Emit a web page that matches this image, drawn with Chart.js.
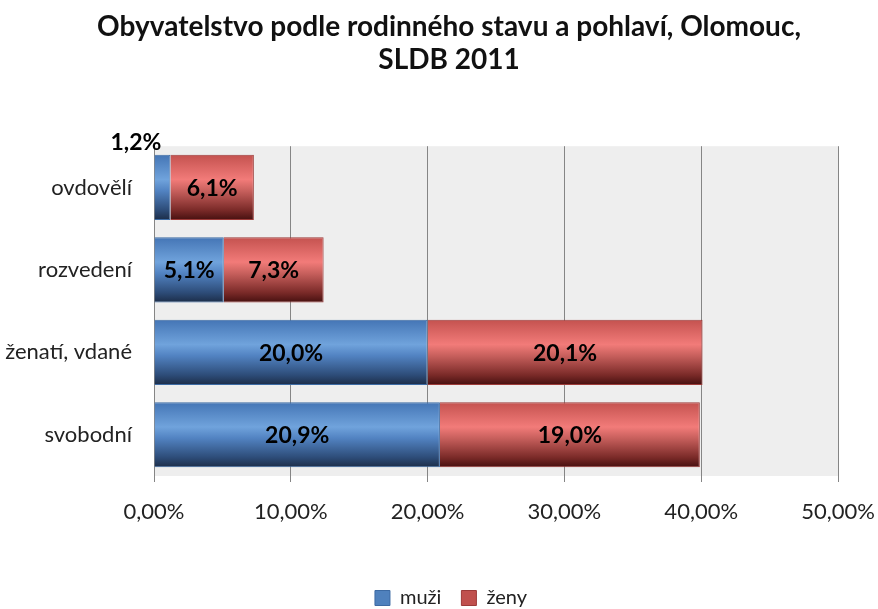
<!DOCTYPE html>
<html>
<head>
<meta charset="utf-8">
<script src="https://cdn.jsdelivr.net/npm/chart.js@4/dist/chart.umd.min.js"></script>
<style>
html,body{margin:0;padding:0;background:#fff;}
#wrap{width:878px;height:609px;position:relative;}
</style>
</head>
<body>
<div id="wrap"><canvas id="c" width="878" height="609"></canvas></div>
<script>
const categories = ['ovdovělí', 'rozvedení', 'ženatí, vdané', 'svobodní'];
const muzi = [1.2, 5.1, 20.0, 20.9];
const zeny = [6.1, 7.3, 20.1, 19.0];
const xTicks = [0, 10, 20, 30, 40, 50];
const seriesNames = ['muži', 'ženy'];
const seriesColors = ['#4f81bd', '#c0504d'];
const titleLines = ['Obyvatelstvo podle rodinného stavu a pohlaví, Olomouc,', 'SLDB 2011'];

const FONT = 'Lato, "Open Sans", sans-serif';
const BAR_PCT = 0.79;

function gradFill(stops, flat) {
  return function(ctx) {
    const chart = ctx.chart;
    if (ctx.type !== 'data' || !chart.scales || !chart.scales.y || !chart.chartArea) return flat;
    const y = chart.scales.y;
    const c = y.getPixelForValue(ctx.dataIndex);
    const h = (y.height / categories.length) * BAR_PCT / 2;
    const g = chart.ctx.createLinearGradient(0, c - h, 0, c + h);
    stops.forEach(s => g.addColorStop(s[0], s[1]));
    return g;
  };
}
const blueStops = [[0, '#4475b5'], [0.38, '#70a3dc'], [0.55, '#5283c2'], [0.85, '#2d4c78'], [1, '#1c2d48']];
const redStops = [[0, '#c4524f'], [0.38, '#f27b79'], [0.55, '#c8605d'], [0.85, '#7a2a28'], [1, '#461010']];

const bgPlugin = {
  id: 'plotBg',
  afterLayout(chart) {
    if (chart.titleBlock) { chart.titleBlock.left += 12; chart.titleBlock.right += 12; }
    if (chart.legend) { chart.legend.left += 14; chart.legend.right += 14; }
  },
  beforeDraw(chart) {
    const a = chart.chartArea, ctx = chart.ctx;
    ctx.save();
    ctx.fillStyle = '#eeeeee';
    ctx.fillRect(a.left, a.top, a.right - a.left, a.bottom - a.top);
    ctx.restore();
  }
};

const labelPlugin = {
  id: 'valLabels',
  afterDatasetsDraw(chart) {
    const ctx = chart.ctx;
    ctx.save();
    ctx.font = 'bold 23px ' + FONT;
    ctx.fillStyle = '#000';
    chart.data.datasets.forEach((ds, di) => {
      const meta = chart.getDatasetMeta(di);
      meta.data.forEach((el, i) => {
        const v = ds.data[i];
        const txt = v.toFixed(1).replace('.', ',') + '%';
        const p = el.getProps(['x', 'y', 'base', 'height'], true);
        const w = Math.abs(p.x - p.base);
        if (w < 40) {
          ctx.textAlign = 'right';
          ctx.textBaseline = 'alphabetic';
          ctx.fillText(txt, p.x - 9, p.y - p.height / 2 - 5);
        } else {
          ctx.textAlign = 'center';
          ctx.textBaseline = 'middle';
          ctx.fillText(txt, (p.x + p.base) / 2, p.y + 1);
        }
      });
    });
    ctx.restore();
  }
};

new Chart(document.getElementById('c'), {
  type: 'bar',
  data: {
    labels: categories,
    datasets: [
      {
        label: seriesNames[0], data: muzi,
        backgroundColor: gradFill(blueStops, seriesColors[0]),
        borderColor: '#3c6aa3', borderWidth: 1,
        barPercentage: BAR_PCT, categoryPercentage: 1
      },
      {
        label: seriesNames[1], data: zeny,
        backgroundColor: gradFill(redStops, seriesColors[1]),
        borderColor: '#9c3a38', borderWidth: 1,
        barPercentage: BAR_PCT, categoryPercentage: 1
      }
    ]
  },
  options: {
    indexAxis: 'y',
    responsive: false,
    animation: false,
    layout: { padding: { left: 0, right: 4, top: 0, bottom: -9 } },
    scales: {
      x: {
        stacked: true, min: 0, max: 50,
        afterBuildTicks(scale) { scale.ticks = xTicks.map(v => ({ value: v })); },
        afterFit(scale) { scale.height = 92; scale.paddingLeft = 0; scale.paddingRight = 40; },
        ticks: {
          callback: v => v.toFixed(2).replace('.', ',') + '%',
          font: { family: FONT, size: 22 }, color: '#222', padding: 17, maxRotation: 0
        },
        grid: { color: '#858585', lineWidth: 1, tickLength: 6, drawOnChartArea: true },
        border: { display: false }
      },
      y: {
        stacked: true,
        afterFit(scale) { scale.width = 154; },
        ticks: { font: { family: FONT, size: 22 }, color: '#222', padding: 14 },
        grid: { display: false },
        border: { display: false }
      }
    },
    plugins: {
      title: {
        display: true, text: titleLines,
        font: { family: FONT, size: 28, weight: 'bold', lineHeight: 1.2 },
        color: '#111', padding: { top: 10, bottom: 69 }
      },
      legend: {
        position: 'bottom',
        labels: {
          boxWidth: 15, boxHeight: 15, padding: 20,
          font: { family: FONT, size: 20 }, color: '#222',
          generateLabels(chart) {
            const items = Chart.defaults.plugins.legend.labels.generateLabels(chart);
            items.forEach((it, i) => { it.fillStyle = seriesColors[i]; it.lineWidth = 1; });
            return items;
          }
        }
      },
      tooltip: { enabled: false }
    }
  },
  plugins: [bgPlugin, labelPlugin]
});
</script>
</body>
</html>
